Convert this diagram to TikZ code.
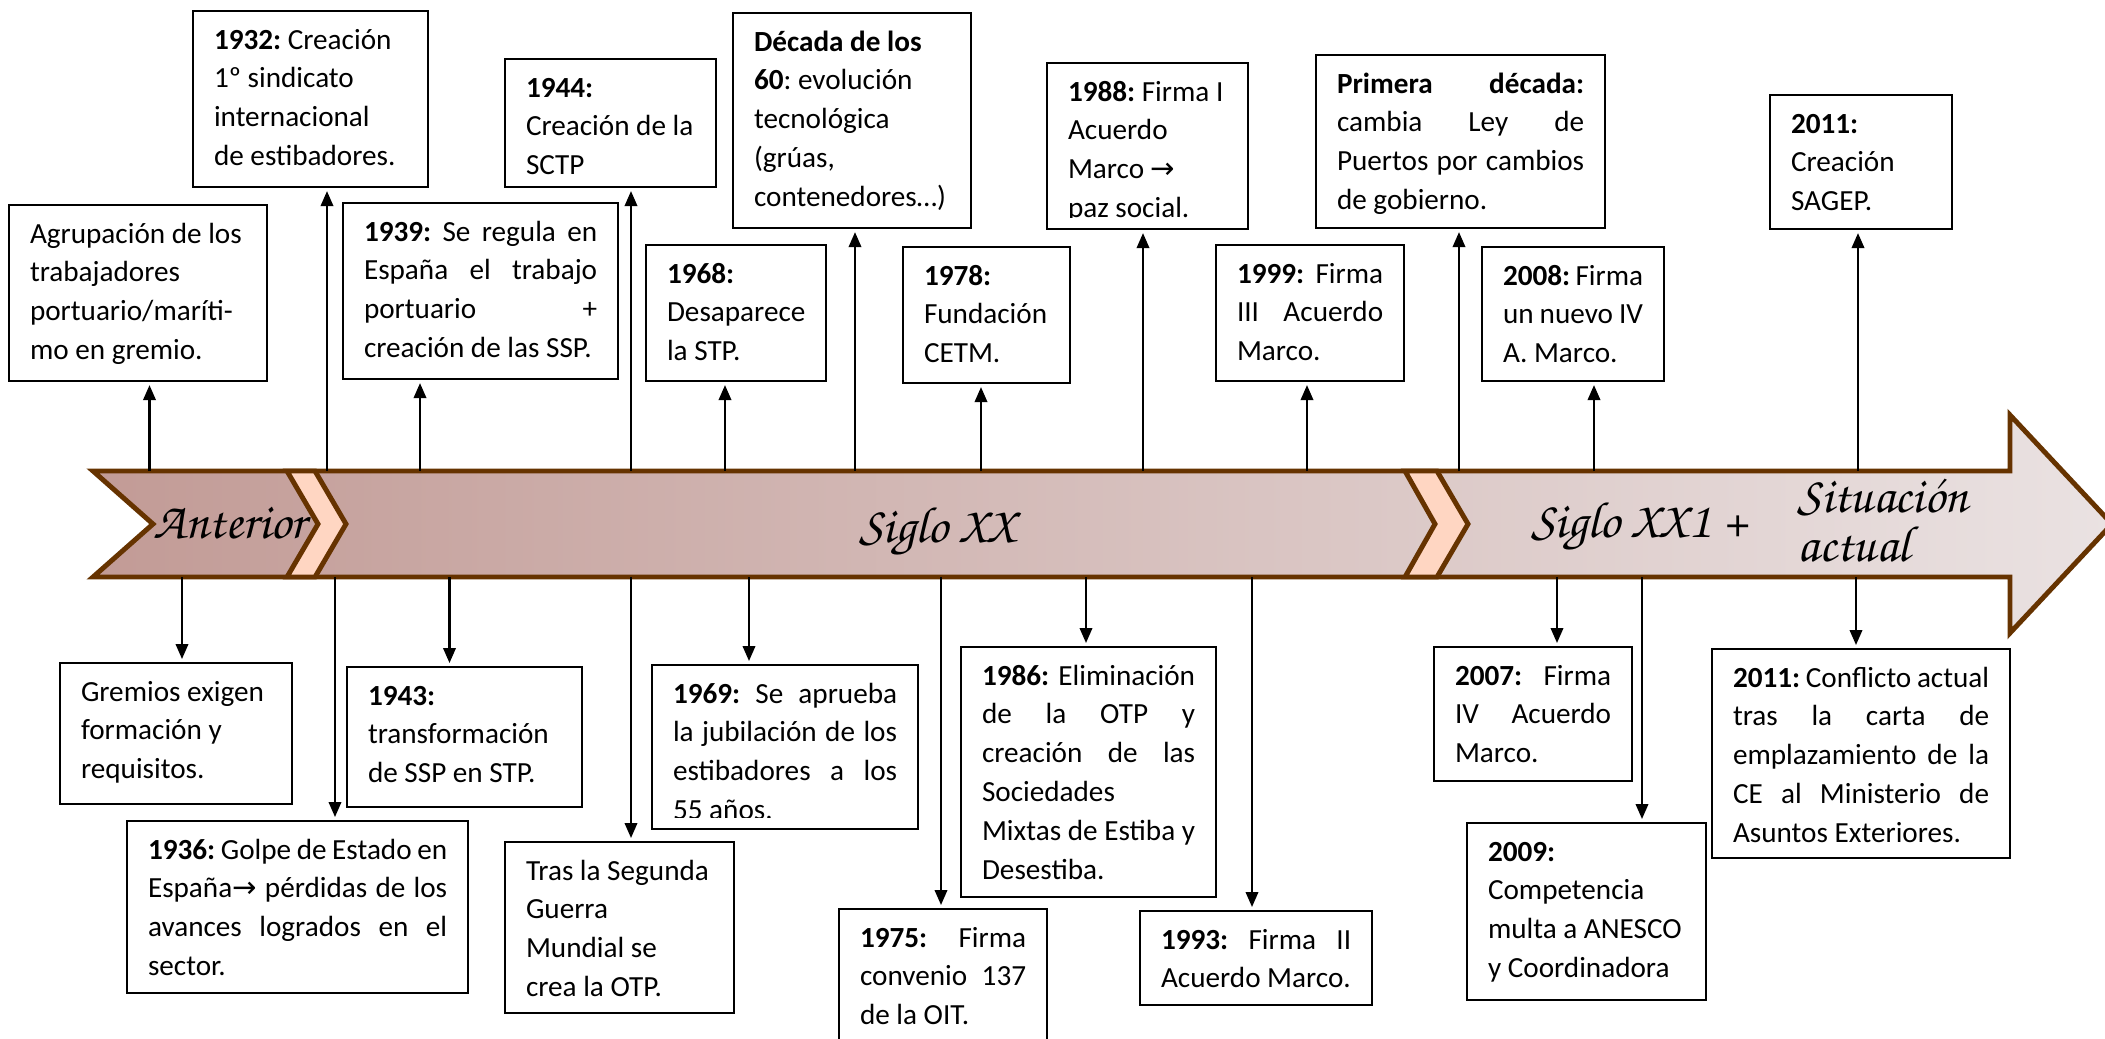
\documentclass[tikz,border=0pt]{standalone}
\usepackage[T1,TU]{fontenc}
\usepackage{fontspec}
\setmainfont{Carlito}
\newfontfamily\symfont{DejaVu Sans}
\usetikzlibrary{arrows.meta}

\definecolor{bandbrown}{HTML}{663300}
\definecolor{bandpeach}{HTML}{FFD6C2}
\definecolor{bandleft}{HTML}{C29B96}
\definecolor{bandright}{HTML}{EAE2E2}

\newcommand{\boxfont}{\fontsize{8.3}{11.04}\selectfont\hyphenpenalty=10000\hbadness=10000\hfuzz=20pt}
\newcommand{\bandfont}{\fontencoding{T1}\fontfamily{pzc}\fontseries{mb}\fontshape{it}\fontsize{14.5}{15}\selectfont}
\newcommand{\sarrow}{{\symfont →}}

\begin{document}
\begin{tikzpicture}[x=0.01cm, y=-0.01cm,
    box/.style={draw, fill=white, line width=0.7pt, anchor=north west, inner xsep=0.21cm, inner ysep=0pt, outer sep=0pt, text height=0.38cm, align=flush left, font=\boxfont},
    jbox/.style={box, align=justify},
    conn/.style={-{Triangle[length=0.15cm,width=0.125cm]}, line width=0.6pt, shorten >=0.04cm},
    band/.style={left color=bandleft, right color=bandright, draw=bandbrown, line width=1.4pt},
    chev/.style={fill=bandpeach, draw=bandbrown, line width=1.4pt},
    bandtxt/.style={font=\bandfont, inner sep=0pt}]
        \useasboundingbox (0,0) rectangle (2105,1038);
        \fill[white] (0,0) rectangle (2105,1038);

        % the time band
        \path[band] (93,471) -- (2010,471) -- (2010,415) -- (2112,524) -- (2010,633) -- (2010,577) -- (93,577) -- (153,524) -- cycle;
        \path[chev] (287,471) -- (315,471) -- (346,524) -- (315,577) -- (287,577) -- (318,524) -- cycle;
        \path[chev] (1405,471) -- (1437,471) -- (1468,524) -- (1437,577) -- (1405,577) -- (1435,524) -- cycle;
        \node[bandtxt, anchor=base] (lant) at (230,538) {Anterior};
        \node[bandtxt, anchor=base] (lxx) at (938,542) {Siglo XX};
        \node[bandtxt, anchor=base] (lxxi) at (1640,537) {Siglo XX1 +};
        \node[bandtxt, anchor=base west] (lsit) at (1797,512) {Situación};
        \node[bandtxt, anchor=base west] (lact) at (1797,561) {actual};

        % events above the band
        \node[box, text width=2.16cm, text depth=1.38cm] (agr) at (9,205) {Agrupación~de~los\\trabajadores\\portuario/maríti-\\mo~en~gremio.};
        \node[box, text width=1.93cm, text depth=1.38cm] (b1932) at (193,11) {\textbf{1932:}~Creación\\1º~sindicato\\internacional\\de~estibadores.};
        \node[jbox, text width=2.33cm, text depth=1.38cm] (b1939) at (343,203) {\textbf{1939:}~Se~regula~en\linebreak España~el~trabajo\linebreak portuario~+\linebreak creación~de~las~SSP.};
        \node[box, text width=1.69cm, text depth=0.90cm] (b1944) at (505,59) {\textbf{1944:}\\Creación~de~la\\SCTP};
        \node[box, text width=1.38cm, text depth=0.98cm] (b1968) at (646,245) {\textbf{1968:}\\Desaparece\\la~STP.};
        \node[box, text width=1.96cm, text depth=1.77cm] (b60) at (733,13) {\textbf{Década~de~los}\\\textbf{60}:~evolución\\tecnológica\\(grúas,\\contenedores…)};
        \node[box, text width=1.25cm, text depth=0.98cm] (b1978) at (903,247) {\textbf{1978:}\\Fundación\\CETM.};
        \node[box, text width=1.59cm, text depth=1.28cm] (b1988) at (1047,63) {\textbf{1988:}~Firma~I\\Acuerdo\\Marco~\sarrow\\paz~social.};
        \node[jbox, text width=2.47cm, text depth=1.35cm] (bprim) at (1316,55) {\textbf{Primera~década:}\linebreak cambia~Ley~de\linebreak Puertos~por~cambios\linebreak de~gobierno.};
        \node[jbox, text width=1.46cm, text depth=0.98cm] (b1999) at (1216,245) {\textbf{1999:}~Firma\linebreak III~Acuerdo\linebreak Marco.};
        \node[box, text width=1.40cm, text depth=0.96cm] (b2008) at (1482,247) {\textbf{2008:}~Firma\\un~nuevo~IV\\A.~Marco.};
        \node[box, text width=1.40cm, text depth=0.96cm] (b2011) at (1770,95) {\textbf{2011:}\\Creación\\SAGEP.};

        % events below the band
        \node[box, text width=1.90cm, text depth=1.03cm] (grem) at (60,663) {Gremios~exigen\\formación~y\\requisitos.};
        \node[jbox, text width=2.99cm, text depth=1.34cm] (b1936) at (127,821) {\textbf{1936:}~Golpe~de~Estado~en\linebreak España\sarrow{}~pérdidas~de~los\linebreak avances~logrados~en~el\linebreak sector.};
        \node[box, text width=1.93cm, text depth=1.02cm] (b1943) at (347,667) {\textbf{1943:}\\transformación\\de~SSP~en~STP.};
        \node[box, text width=1.87cm, text depth=1.33cm] (botp) at (505,842) {Tras~la~Segunda\\Guerra\\Mundial~se\\crea~la~OTP.};
        \node[jbox, text width=2.24cm, text depth=1.26cm] (b1969) at (652,665) {\textbf{1969:}~Se~aprueba\linebreak la~jubilación~de~los\linebreak estibadores~a~los\linebreak 55~años.};
        \node[jbox, text width=1.66cm, text depth=1.13cm] (b1975) at (839,909) {\textbf{1975:}~Firma\linebreak convenio~137\linebreak de~la~OIT.};
        \node[jbox, text width=2.13cm, text depth=2.12cm] (b1986) at (961,647) {\textbf{1986:}~Eliminación\linebreak de~la~OTP~y\linebreak creación~de~las\linebreak Sociedades\linebreak Mixtas~de~Estiba~y\linebreak Desestiba.};
        \node[jbox, text width=1.90cm, text depth=0.56cm] (b1993) at (1140,911) {\textbf{1993:}~Firma~II\linebreak Acuerdo~Marco.};
        \node[jbox, text width=1.56cm, text depth=0.96cm] (b2007) at (1434,647) {\textbf{2007:}~Firma\linebreak IV~Acuerdo\linebreak Marco.};
        \node[box, text width=1.97cm, text depth=1.39cm] (b2009) at (1467,823) {\textbf{2009:}\\Competencia\\multa~a~ANESCO\\y~Coordinadora};
        \node[jbox, text width=2.56cm, text depth=1.71cm] (b2011b) at (1712,649) {\textbf{2011:}~Conflicto~actual\linebreak tras~la~carta~de\linebreak emplazamiento~de~la\linebreak CE~al~Ministerio~de\linebreak Asuntos~Exteriores.};

        % cut-off last lines
        \fill[white] ([shift={(0.5pt,0.5pt)}]b1988.south west) rectangle ([shift={(-0.5pt,0.11cm)}]b1988.south east);
        \fill[white] ([shift={(0.5pt,0.5pt)}]b1969.south west) rectangle ([shift={(-0.5pt,0.11cm)}]b1969.south east);

        % feet of the connectors on the band
        \coordinate (pagr) at (149.5,471);
        \coordinate (p1932) at (327,471);
        \coordinate (p1939) at (420,471);
        \coordinate (p1944) at (631,471);
        \coordinate (p1968) at (725,471);
        \coordinate (p60) at (855,471);
        \coordinate (p1978) at (981,471);
        \coordinate (p1988) at (1143,471);
        \coordinate (p1999) at (1307,471);
        \coordinate (pprim) at (1459,471);
        \coordinate (p2008) at (1594,471);
        \coordinate (p2011) at (1858,471);
        \coordinate (pgrem) at (182,577);
        \coordinate (p1936) at (335,577);
        \coordinate (p1943) at (449.5,577);
        \coordinate (potp) at (631,577);
        \coordinate (p1969) at (749,577);
        \coordinate (p1975) at (941,577);
        \coordinate (p1986) at (1086,577);
        \coordinate (p1993) at (1252,577);
        \coordinate (p2007) at (1557,577);
        \coordinate (p2009) at (1642,577);
        \coordinate (p2011b) at (1856,577);

        \path [conn](pagr) edge (pagr |- agr.south);
        \path [conn](p1932) edge (p1932 |- b1932.south);
        \path [conn](p1939) edge (p1939 |- b1939.south);
        \path [conn](p1944) edge (p1944 |- b1944.south);
        \path [conn](p1968) edge (p1968 |- b1968.south);
        \path [conn](p60) edge (p60 |- b60.south);
        \path [conn](p1978) edge (p1978 |- b1978.south);
        \path [conn](p1988) edge (p1988 |- b1988.south);
        \path [conn](p1999) edge (p1999 |- b1999.south);
        \path [conn](pprim) edge (pprim |- bprim.south);
        \path [conn](p2008) edge (p2008 |- b2008.south);
        \path [conn](p2011) edge (p2011 |- b2011.south);
        \path [conn](pgrem) edge (pgrem |- grem.north);
        \path [conn](p1936) edge (p1936 |- b1936.north);
        \path [conn](p1943) edge (p1943 |- b1943.north);
        \path [conn](potp) edge (potp |- botp.north);
        \path [conn](p1969) edge (p1969 |- b1969.north);
        \path [conn](p1975) edge (p1975 |- b1975.north);
        \path [conn](p1986) edge (p1986 |- b1986.north);
        \path [conn](p1993) edge (p1993 |- b1993.north);
        \path [conn](p2007) edge (p2007 |- b2007.north);
        \path [conn](p2009) edge (p2009 |- b2009.north);
        \path [conn](p2011b) edge (p2011b |- b2011b.north);
\end{tikzpicture}
\end{document}
